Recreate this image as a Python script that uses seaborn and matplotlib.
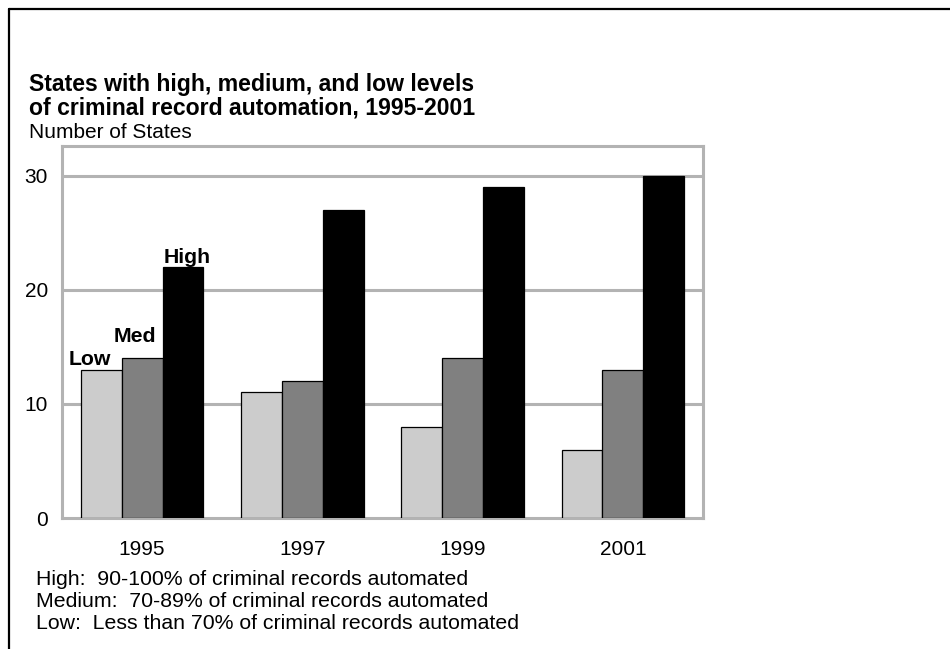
import numpy as np
import pandas as pd
import matplotlib
matplotlib.use("Agg")
import matplotlib.pyplot as plt
from matplotlib.lines import Line2D
import seaborn as sns

years = ["1995", "1997", "1999", "2001"]
levels = ["Low", "Med", "High"]
low = [13, 11, 8, 6]
med = [14, 12, 14, 13]
high = [22, 27, 29, 30]
footnotes = [
    "High:  90-100% of criminal records automated",
    "Medium:  70-89% of criminal records automated",
    "Low:  Less than 70% of criminal records automated",
]

df = pd.DataFrame({
    "year": years * 3,
    "level": ["Low"] * 4 + ["Med"] * 4 + ["High"] * 4,
    "states": low + med + high,
})

sns.set_style("white")
plt.rcParams["font.family"] = ["Liberation Sans", "DejaVu Sans"]
plt.rcParams["text.color"] = "black"

W, H = 950, 649
fig = plt.figure(figsize=(W / 100, H / 100), dpi=100)
ax = fig.add_axes([62 / W, 1 - 518 / H, (703 - 62) / W, (518 - 146) / H])

grey = "#b3b3b3"
for y in [10, 20, 30]:
    ax.axhline(y, color=grey, lw=2.2, zorder=0)

sns.barplot(data=df, x="year", y="states", hue="level", hue_order=levels,
            palette={"Low": "#cccccc", "Med": "#808080", "High": "#000000"},
            edgecolor="black", linewidth=0.9, width=0.763, saturation=1,
            legend=False, ax=ax, zorder=2)

ax.set_ylim(0, 32.6)
ax.set_yticks([0, 10, 20, 30])
ax.set_xlabel("")
ax.set_ylabel("")
for s in ax.spines.values():
    s.set_color(grey)
    s.set_linewidth(2.2)
    s.set_zorder(1)
ax.tick_params(axis="both", length=0, labelsize=15, colors="black")
ax.tick_params(axis="y", pad=10)
ax.tick_params(axis="x", pad=16)

# level labels over the first group
ax.text(-0.324, low[0] + 0.42, "Low", ha="center", va="baseline",
        fontsize=15.3, fontweight="bold")
ax.text(-0.042, med[0] + 1.38, "Med", ha="center", va="baseline",
        fontsize=15.3, fontweight="bold")
ax.text(0.279, high[0] + 0.34, "High", ha="center", va="baseline",
        fontsize=15.3, fontweight="bold")

fig.text(29 / W, 1 - 91 / H, "States with high, medium, and low levels",
         fontsize=16.6, fontweight="bold", va="baseline")
fig.text(29 / W, 1 - 114 / H, "of criminal record automation, 1995-2001",
         fontsize=16.6, fontweight="bold", va="baseline")
fig.text(29 / W, 1 - 138 / H, "Number of States", fontsize=15, va="baseline")

for i, t in enumerate(footnotes):
    fig.text(36 / W, 1 - (585 + i * 22) / H, t, fontsize=15.3, va="baseline")

# outer frame: top and left edges only
fig.add_artist(Line2D([9 / W, 1], [1 - 9 / H, 1 - 9 / H], color="black", lw=1.6,
                      transform=fig.transFigure))
fig.add_artist(Line2D([9 / W, 9 / W], [0, 1 - 9 / H], color="black", lw=1.6,
                      transform=fig.transFigure))

fig.savefig("out.png", dpi=100, facecolor="white")
